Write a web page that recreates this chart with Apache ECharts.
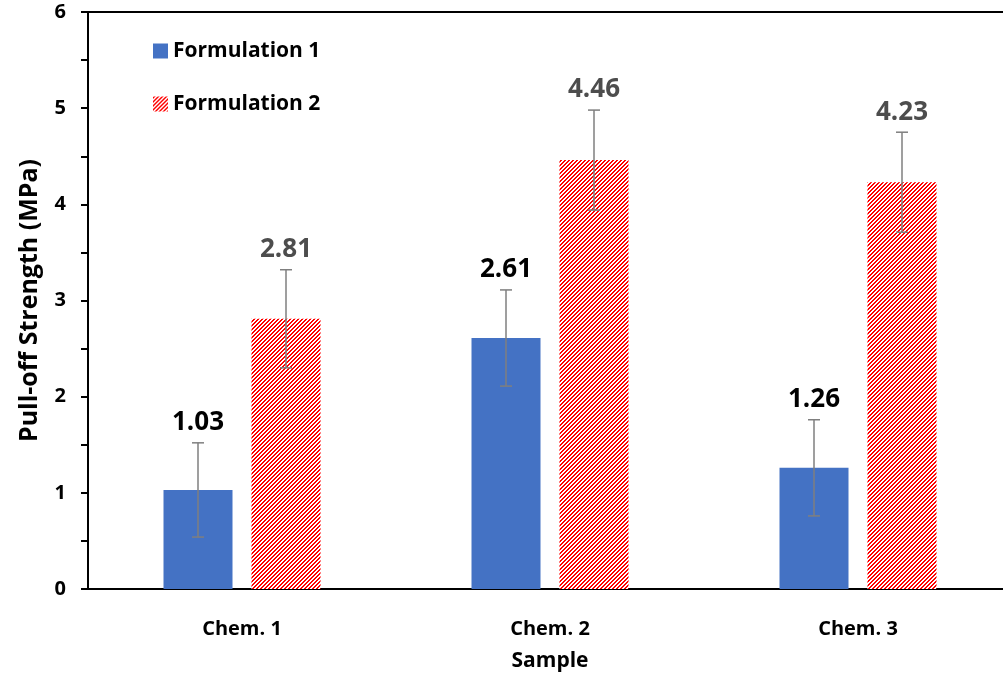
<!DOCTYPE html>
<html>
<head>
<meta charset="utf-8">
<script src="https://cdn.jsdelivr.net/npm/echarts@6/dist/echarts.min.js"></script>
<style>html,body{margin:0;padding:0;background:#fff}#c{width:1003px;height:680px}</style>
</head>
<body>
<div id="c"></div>
<script>
const categories = ['Chem. 1', 'Chem. 2', 'Chem. 3'];
const seriesNames = ['Formulation 1', 'Formulation 2'];
const f1Values = [1.03, 2.61, 1.26];
const f2Values = [2.81, 4.46, 4.23];
const f1Errors = [0.49, 0.50, 0.50];
const f2Errors = [0.51, 0.52, 0.52];
const yTicks = [0, 1, 2, 3, 4, 5, 6];

const FONT = '"Open Sans"';
const BAR_W = 69, BAR_GAP = 19;

function hatch() {
  const c = document.createElement('canvas');
  c.width = 4; c.height = 4;
  const ctx = c.getContext('2d');
  ctx.fillStyle = '#ffffff'; ctx.fillRect(0, 0, 4, 4);
  ctx.fillStyle = '#ff0000';
  for (let x = 0; x < 4; x++) for (let y = 0; y < 4; y++) {
    if (((x + y) % 4) < 2) ctx.fillRect(x, y, 1, 1);
  }
  return c;
}
const hatchFill = { image: hatch(), repeat: 'repeat' };

const errData = [];
categories.forEach((c, i) => {
  errData.push([i, f1Values[i], f1Errors[i], 0]);
  errData.push([i, f2Values[i], f2Errors[i], 1]);
});

const chart = echarts.init(document.getElementById('c'));
chart.setOption({
  animation: false,
  backgroundColor: '#fff',
  grid: { left: 88, top: 12, width: 924, height: 577, outerBoundsMode: 'none', containLabel: false },
  legend: {
    orient: 'vertical', left: 148, top: 35, itemWidth: 15, itemHeight: 15, itemGap: 31,
    icon: 'rect',
    textStyle: { fontFamily: FONT, fontWeight: 'bold', fontSize: 21, lineHeight: 22, color: '#000' },
    data: seriesNames
  },
  xAxis: [{
    type: 'category', data: categories, boundaryGap: true,
    axisLine: { lineStyle: { color: '#000', width: 2 } },
    axisTick: { show: false },
    axisLabel: { margin: 30, fontFamily: FONT, fontWeight: 'bold', fontSize: 20, color: '#000' },
    name: 'Sample', nameLocation: 'middle', nameGap: 62,
    nameTextStyle: { fontFamily: FONT, fontWeight: 'bold', fontSize: 21, color: '#000' }
  }, {
    type: 'category', data: categories, position: 'top',
    axisLine: { show: true, lineStyle: { color: '#000', width: 2 } },
    axisTick: { show: false }, axisLabel: { show: false }
  }],
  yAxis: {
    type: 'value', min: yTicks[0], max: yTicks[yTicks.length - 1], interval: 1,
    axisLine: { show: true, lineStyle: { color: '#000', width: 2 } },
    axisTick: { show: true, length: 7, lineStyle: { color: '#000', width: 2 } },
    minorTick: { show: true, splitNumber: 2, length: 7, lineStyle: { color: '#000', width: 2 } },
    splitLine: { show: false },
    axisLabel: { margin: 22, fontFamily: FONT, fontWeight: 'bold', fontSize: 20, color: '#000' },
    name: 'Pull-off Strength (MPa)', nameLocation: 'middle', nameGap: 46, nameRotate: 90,
    nameTextStyle: { fontFamily: FONT, fontWeight: 'bold', fontSize: 25, color: '#000' }
  },
  series: [{
    name: seriesNames[0], type: 'bar', data: f1Values, barWidth: BAR_W, barGap: (BAR_GAP / BAR_W * 100) + '%',
    itemStyle: { color: '#4472C4' }
  }, {
    name: seriesNames[1], type: 'bar', data: f2Values, barWidth: BAR_W,
    itemStyle: { color: hatchFill }
  }, {
    type: 'custom', data: errData, z: 10,
    renderItem: function (params, api) {
      const ci = api.value(0), v = api.value(1), e = api.value(2), s = api.value(3);
      const off = (s === 0 ? -1 : 1) * (BAR_W + BAR_GAP) / 2;
      const top = api.coord([ci, v + e]);
      const bot = api.coord([ci, v - e]);
      const x = top[0] + off;
      const cap = 6;
      const ls = { stroke: '#7f7f7f', lineWidth: 1.5 };
      return {
        type: 'group', children: [
          { type: 'line', shape: { x1: x, y1: top[1], x2: x, y2: bot[1] }, style: ls },
          { type: 'line', shape: { x1: x - cap, y1: top[1], x2: x + cap, y2: top[1] }, style: ls },
          { type: 'line', shape: { x1: x - cap, y1: bot[1], x2: x + cap, y2: bot[1] }, style: ls },
          { type: 'text', x: x, y: top[1] - 20, style: {
              text: v.toFixed(2), fill: s === 0 ? '#000' : '#4d4d4d',
              font: 'bold 26px ' + FONT, textAlign: 'center', textVerticalAlign: 'middle' } }
        ]
      };
    }
  }]
});
</script>
</body>
</html>
